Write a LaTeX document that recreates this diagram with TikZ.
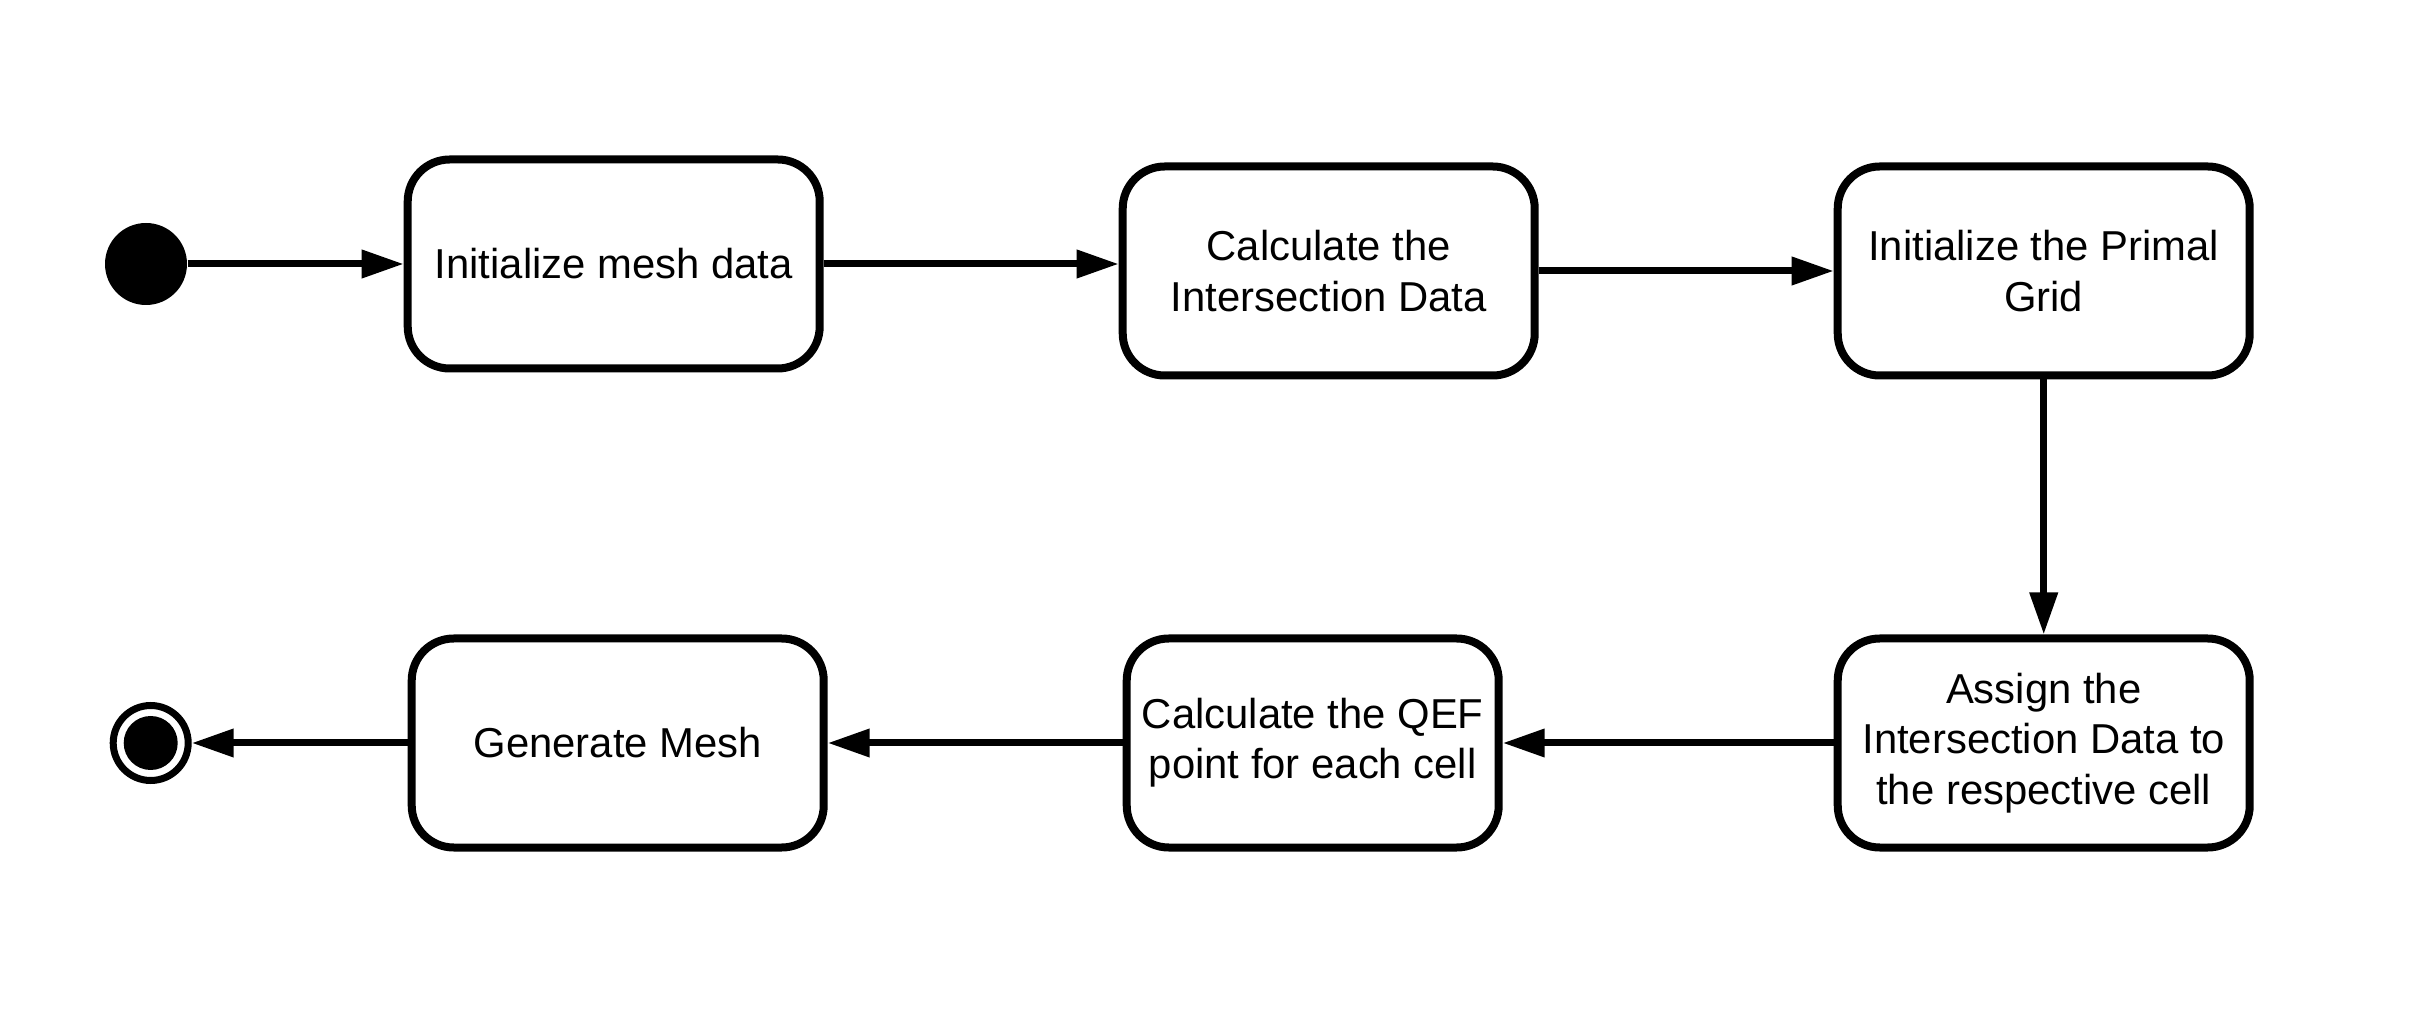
\documentclass[tikz,border=0pt]{standalone}
\usepackage{fontspec}
\setmainfont{Liberation Sans}
\usetikzlibrary{positioning, arrows.meta}

\begin{document}
\begin{tikzpicture}[
  node distance=2.95cm,
  state/.style={
    rectangle,
    draw=black,
    fill=white,
    rounded corners=0.42cm,
    line width=0.08cm,
    align=center,
    minimum width=4.12cm,
    minimum height=2.09cm,
    inner sep=4pt,
    font=\fontsize{11.9}{14.3}\selectfont
  },
  startdot/.style={circle, fill=black, minimum size=0.82cm, inner sep=0pt},
  enddot/.style={circle, draw=black, line width=0.07cm, minimum size=0.75cm, inner sep=0pt},
  enddotcore/.style={circle, fill=black, minimum size=0.54cm, inner sep=0pt},
  arrow/.style={
    -{Triangle[length=0.42cm, width=0.27cm]},
    line width=0.07cm,
    draw=black
  }
]
  \useasboundingbox (0,0) rectangle (24.23,10.22);

  % Define nodes
  \node[startdot] (start) at (1.46,7.58) {};
  \node[state] (init) [right=2.16cm of start] {Initialize mesh data};
  \node[state] (calc) [right=of init, yshift=-0.07cm] {Calculate the\\Intersection Data};
  \node[state] (primal) [right=of calc] {Initialize the Primal\\Grid};
  \node[state] (assign) [below=2.55cm of primal] {Assign the\\Intersection Data to\\the respective cell};
  \node[state, minimum width=3.72cm] (qef) [left=3.31cm of assign] {Calculate the QEF\\point for each cell};
  \node[state] (gen) [left=of qef] {Generate Mesh};
  \node[enddot] (finish) [left=2.16cm of gen] {};
  \node[enddotcore] (finishcore) at (finish) {};

  % Connect nodes with arrows
  \draw[arrow] (start.east) -- (init.west);
  \draw[arrow] (init.east) -- (calc.west |- init.east);
  \draw[arrow] (calc.east) -- (primal.west);
  \draw[arrow] (primal.south) -- (assign.north);
  \draw[arrow] (assign.west) -- (qef.east);
  \draw[arrow] (qef.west) -- (gen.east);
  \draw[arrow] (gen.west) -- (finish.east);
\end{tikzpicture}
\end{document}
